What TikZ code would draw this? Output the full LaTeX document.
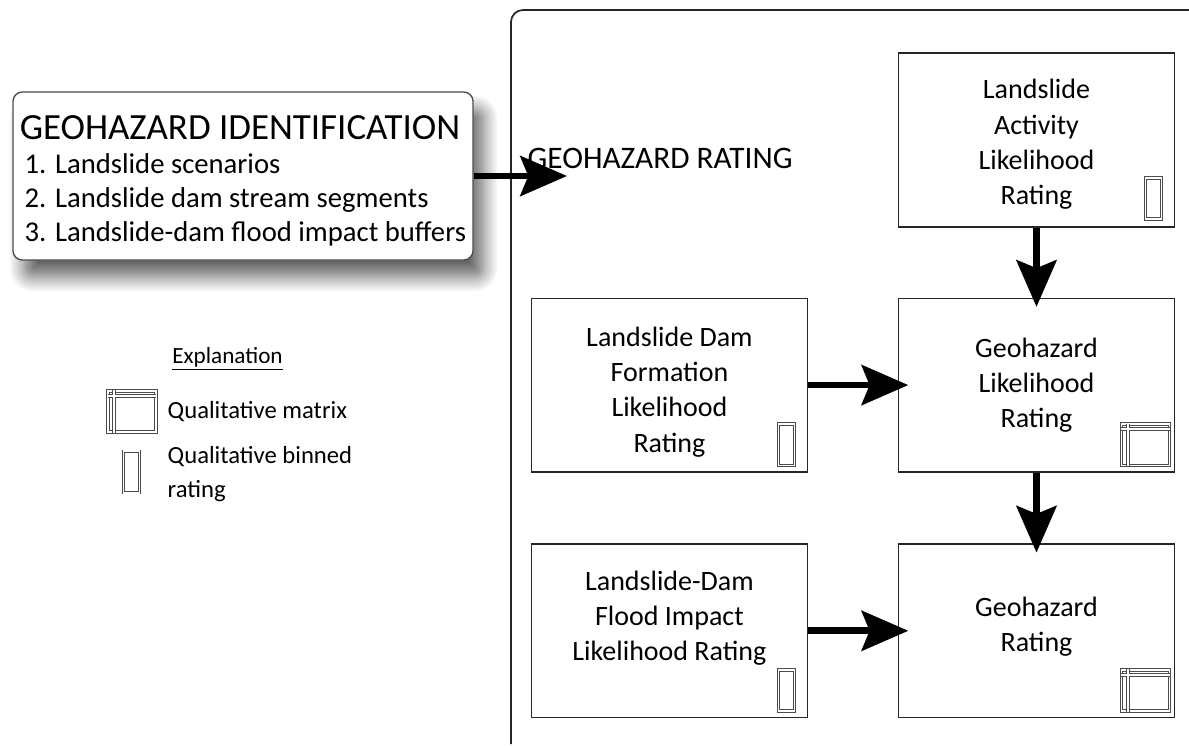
\documentclass[tikz,border=0pt]{standalone}
\usepackage{fontspec}
\setmainfont{Carlito}
\usetikzlibrary{positioning, arrows.meta, shadows.blur}

\begin{document}
\begin{tikzpicture}[x=0.75pt, y=-0.75pt,
    box/.style={
        rectangle, draw=black!85, line width=1.3pt, fill=white,
        minimum width=207pt, minimum height=130pt,
        align=center, font=\fontsize{21}{26.25}\selectfont},
    boxtxt/.style={align=center, font=\fontsize{21}{26.5}\selectfont},
    idbox/.style={
        rectangle, rounded corners=7pt, draw=black!70, line width=1pt,
        fill=white, minimum width=345pt, minimum height=126pt,
        blur shadow={shadow xshift=8pt, shadow yshift=-13pt,
                     shadow blur radius=11pt, shadow blur steps=12,
                     shadow opacity=60},
        align=left, font=\fontsize{21.5}{25.5}\selectfont},
    frame/.style={draw=black!85, line width=1.3pt, rounded corners=9pt},
    arr/.style={-{Stealth[length=35pt, width=30pt, inset=6pt]}, line width=5pt},
    binned/.style={
        rectangle, draw=gray!60!black, line width=0.7pt,
        double=white, double distance=1.3pt,
        minimum width=12pt, minimum height=31pt, inner sep=0pt},
    mtx/.style={binned, minimum width=36pt, minimum height=31pt},
    mline/.style={draw=gray!60!black, line width=0.7pt,
        double=white, double distance=1.3pt},
    leg/.style={font=\fontsize{18.5}{26}\selectfont, align=left, anchor=west}]
  \useasboundingbox (0,0) rectangle (1189,746);
  % Marco de la clasificacion
  \coordinate (fbot) at (511,744);
  \coordinate (ftop) at (1189,10);
  \draw[frame] (fbot) |- (ftop);
  % Caja de identificacion
  \node[idbox] (ident) at (243,176)
    {{\fontsize{27.7}{30}\selectfont\rule{0pt}{25pt}GEOHAZARD IDENTIFICATION}\\
     \,1. Landslide scenarios\\
     \,2. Landslide dam stream segments\\
     \,3. Landslide-dam flood impact buffers};
  \coordinate (rin) at (567,176);
  \draw[arr] (ident.east) -- (rin);
  \node[anchor=west, font=\fontsize{23.5}{26}\selectfont] (rtitle) at (523,158)
    {GEOHAZARD RATING};
  % Cajas de clasificacion
  \node[box, label={[boxtxt, yshift=-3.5pt]center:Landslide\\Activity\\Likelihood\\Rating}]
    (act) at (1036.5,140) {};
  \node[box, below=52.5pt of act] (glr)
    {Geohazard\\Likelihood\\Rating};
  \node[box, left=67pt of glr,
        label={[boxtxt, yshift=-5pt]center:Landslide Dam\\Formation\\Likelihood\\Rating}] (ldf) {};
  \node[box, below=53pt of glr,
        label={[boxtxt, yshift=3pt]center:Geohazard\\Rating}] (gr) {};
  \node[box, left=67pt of gr,
        label={[boxtxt, yshift=9.5pt]center:Landslide-Dam\\Flood Impact\\Likelihood Rating}] (fld) {};
  % Flechas
  \draw[arr, shorten >=-7pt] (act) -- (glr);
  \draw[arr, shorten >=-8pt] (ldf) -- (glr);
  \draw[arr, shorten >=-7pt] (glr) -- (gr);
  \draw[arr, shorten >=-8pt] (fld) -- (gr);
  % Iconos
  \node[binned, anchor=south east] (iact) at ([shift={(-10pt,6pt)}]act.south east) {};
  \node[binned, anchor=south east] (ildf) at ([shift={(-10pt,5pt)}]ldf.south east) {};
  \node[binned, anchor=south east] (ifld) at ([shift={(-10pt,5pt)}]fld.south east) {};
  \node[mtx, anchor=south east] (iglr) at ([shift={(-4pt,5pt)}]glr.south east) {};
  \node[mtx, anchor=south east] (igr) at ([shift={(-4pt,5pt)}]gr.south east) {};
  \foreach \m in {iglr, igr}
    \draw[mline] ([yshift=-4pt]\m.north west) -- ([yshift=-4pt]\m.north east)
                 ([xshift=5pt]\m.north west) -- ([xshift=5pt]\m.south west);
  % Leyenda
  \node[font=\fontsize{17.4}{22}\selectfont] (expl) at (227.5,359) {\underline{Explanation}};
  \node[mtx] (lmtx) at (132,411.5) {};
  \draw[mline] ([yshift=-4pt]lmtx.north west) -- ([yshift=-4pt]lmtx.north east)
               ([xshift=5pt]lmtx.north west) -- ([xshift=5pt]lmtx.south west);
  \node[binned] (lbin) at (131.5,472) {};
  \node[leg] (tmtx) at (163,412) {Qualitative matrix};
  \node[leg] (tbin) at (163,474) {Qualitative binned\\rating};
\end{tikzpicture}
\end{document}
